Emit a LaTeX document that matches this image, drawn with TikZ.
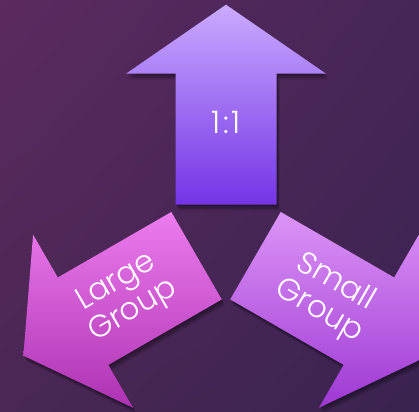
\documentclass[tikz,border=0pt]{standalone}
\usepackage{fontspec}
\IfFontExistsTF{Poppins Light}{\setmainfont{Poppins Light}}{\setmainfont{Poppins}}
\usepackage{tikz}
\usetikzlibrary{calc,shadings}
\definecolor{bgtl}{HTML}{5B2A5F}
\definecolor{bgtr}{HTML}{472657}
\definecolor{bgbl}{HTML}{4A2754}
\definecolor{bgbr}{HTML}{3A2350}
\definecolor{upT}{HTML}{CAAAFF}
\definecolor{upB}{HTML}{7434E6}
\definecolor{lgT}{HTML}{EC7CEE}
\definecolor{lgB}{HTML}{AE32B2}
\definecolor{smT}{HTML}{DC94F6}
\definecolor{smB}{HTML}{9E38D4}
\tikzset{
  arrowshadow/.style={fill=black, opacity=0.12},
  arrowlabel/.style={text=white, font=\fontsize{31}{33}\selectfont, align=center, inner sep=0pt},
}

\begin{document}
\begin{tikzpicture}[x=1pt,y=1pt]
\useasboundingbox (0,0) rectangle (419,411);
\clip (0,0) rectangle (419,411);
\shade[upper left=bgtl, upper right=bgtr, lower left=bgbl, lower right=bgbr] (0,0) rectangle (419,411);
\coordinate (hub) at (226,172.3);
% three arrows round the hub
\foreach \rot/\topc/\botc/\ang/\name/\txt in {0/upT/upB/0/one/{1\kern3pt:\kern3pt1}, 120/lgT/lgB/30/large/{Large\\Group}, 240/smT/smB/-30/small/{Small\\Group}} {
  \foreach \s in {1,...,4}
    \fill[arrowshadow, shift={($(hub)+(0.8*\s,-1.4*\s)$)}, rotate=\rot]
      (-50.5,34) -- (-50.5,165) -- (-100,165) -- (0,234) -- (100,165) -- (50.5,165) -- (50.5,34) -- cycle;
  \begin{scope}[shift={(hub)}, rotate=\rot]
    \shade[top color=\topc, bottom color=\botc]
      (-50.5,34) -- (-50.5,165) -- (-100,165) -- (0,234) -- (100,165) -- (50.5,165) -- (50.5,34) -- cycle;
    \node[arrowlabel, rotate=\ang] (\name) at (0,116.7) {\txt};
  \end{scope}
}
\end{tikzpicture}
\end{document}
